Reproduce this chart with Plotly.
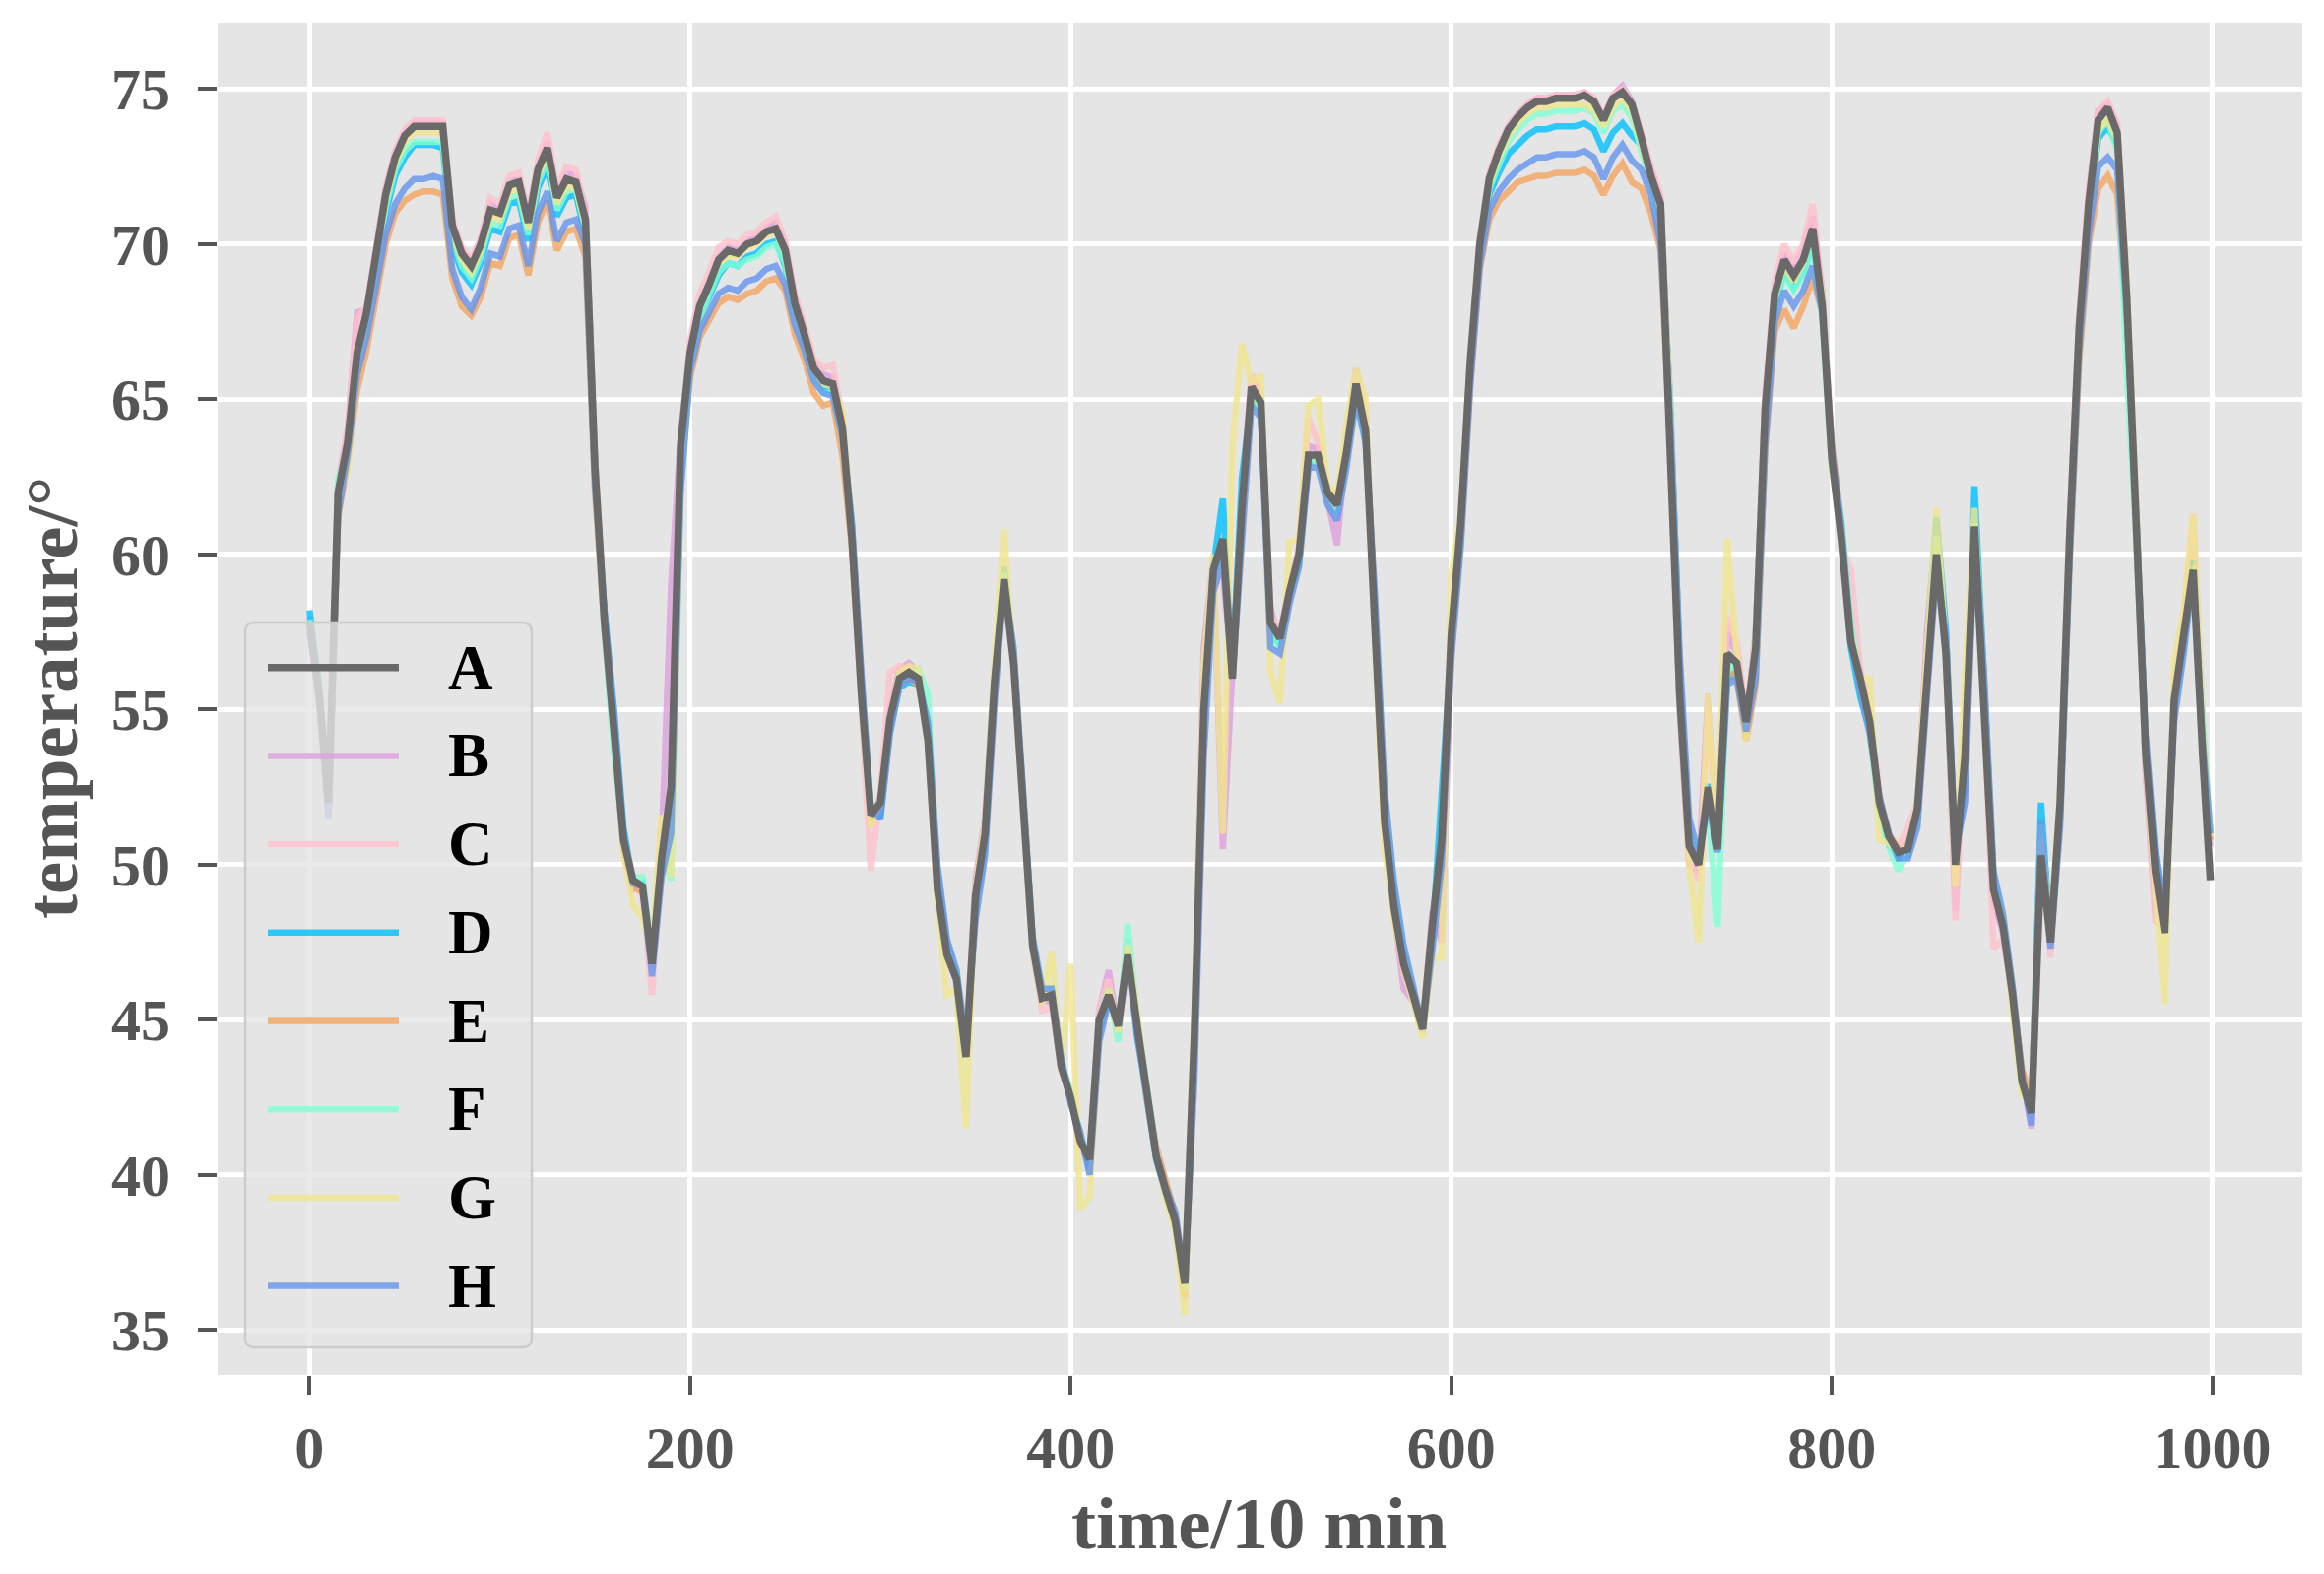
import plotly.graph_objects as go

# ---------------- data ----------------
time = list(range(0, 1000, 5)) + [999]

A = [57.8, 55.5, 52.0, 62.0, 63.6, 66.5, 67.8, 69.8, 71.6, 72.8,
     73.5, 73.8, 73.8, 73.8, 73.8, 70.6, 69.7, 69.3, 70.0, 71.1,
     71.0, 71.9, 72.0, 70.7, 72.4, 73.1, 71.5, 72.1, 72.0, 70.8,
     62.8, 57.8, 54.5, 50.8, 49.5, 49.3, 46.8, 50.2, 52.5, 63.5,
     66.5, 68.0, 68.7, 69.5, 69.8, 69.7, 70.0, 70.1, 70.4, 70.5,
     69.8, 68.1, 67.1, 66.0, 65.6, 65.5, 64.1, 60.5, 55.5, 51.6,
     52.0, 54.7, 56.0, 56.2, 56.0, 54.0, 49.2, 47.1, 46.3, 43.8,
     49.0, 51.0, 55.9, 59.2, 56.5, 52.0, 47.4, 45.7, 45.8, 43.5,
     42.5, 41.1, 40.5, 45.0, 45.8, 44.8, 47.1, 44.8, 42.5, 40.6,
     39.5, 38.5, 36.5, 44.5, 55.0, 59.5, 60.5, 56.0, 61.5, 65.4,
     64.9, 57.8, 57.3, 58.8, 60.0, 63.2, 63.2, 62.0, 61.6, 63.3,
     65.5, 64.0, 57.5, 51.4, 48.6, 46.8, 45.8, 44.7, 48.0, 50.8,
     57.4, 61.0, 66.2, 70.0, 72.1, 73.0, 73.7, 74.1, 74.4, 74.6,
     74.6, 74.7, 74.7, 74.7, 74.8, 74.6, 74.0, 74.7, 74.9, 74.5,
     73.4, 72.2, 71.3, 64.0, 55.5, 50.6, 50.0, 52.5, 50.5, 56.8,
     56.5, 54.6, 57.0, 64.7, 68.4, 69.5, 69.0, 69.5, 70.5, 68.0,
     63.1, 60.5, 57.2, 56.0, 54.6, 52.0, 50.9, 50.4, 50.5, 51.8,
     56.0, 60.0, 56.8, 50.0, 53.5, 60.9, 55.0, 49.2, 48.0, 45.8,
     43.0, 42.0, 50.3, 47.5, 52.0, 60.6, 67.3, 71.3, 74.0, 74.4,
     73.6, 68.3, 61.0, 53.6, 49.8, 47.8, 55.3, 57.3, 59.5, 53.5,
     49.5]

B = [58.0, 55.7, 51.8, 62.3, 64.0, 67.8, 67.9, 69.9, 71.8, 73.0,
     73.6, 73.9, 73.9, 73.9, 73.9, 70.7, 69.8, 69.4, 70.1, 71.3,
     71.1, 72.0, 72.1, 70.8, 72.5, 73.3, 71.6, 72.3, 72.2, 71.2,
     63.0, 58.0, 54.3, 50.5, 49.2, 49.4, 46.6, 50.5, 59.0, 63.8,
     66.7, 68.1, 68.8, 69.6, 69.9, 69.8, 70.1, 70.2, 70.5, 70.7,
     70.0, 68.3, 67.3, 66.2, 65.8, 65.7, 64.3, 60.8, 55.9, 51.2,
     52.2, 55.0, 56.3, 56.5, 56.2, 54.3, 49.3, 47.3, 46.5, 44.0,
     49.5, 51.5, 56.3, 59.0, 56.7, 52.1, 47.5, 45.6, 45.6, 43.4,
     42.6, 41.0, 40.3, 45.3, 46.6, 44.6, 47.6, 44.7, 42.4, 40.6,
     39.4, 38.3, 36.0, 44.9, 57.0, 59.9, 50.5, 56.5, 62.0, 65.6,
     65.0, 58.3, 57.0, 58.6, 60.2, 63.5, 63.4, 61.8, 60.3, 63.6,
     66.0, 64.3, 57.8, 51.6, 48.5, 46.0, 45.6, 44.6, 48.5, 47.5,
     57.0, 60.8, 66.0, 70.0, 72.2, 73.1, 73.8, 74.2, 74.5, 74.7,
     74.7, 74.8, 74.8, 74.8, 74.9, 74.7, 74.1, 74.8, 75.1, 74.6,
     73.5, 72.4, 71.5, 64.5, 55.0, 50.0, 49.8, 55.5, 50.8, 57.5,
     56.8, 54.5, 57.5, 65.0, 68.6, 69.7, 69.2, 69.8, 70.9, 68.5,
     63.5, 60.4, 57.8, 56.2, 54.5, 51.8, 50.6, 50.3, 50.7, 51.6,
     57.5, 61.0, 57.0, 48.5, 55.0, 61.0, 55.5, 48.8, 47.8, 45.7,
     43.2, 41.5, 51.5, 47.6, 51.8, 60.8, 67.6, 71.6, 74.3, 74.5,
     73.8, 68.5, 61.5, 53.0, 48.5, 48.0, 55.0, 57.5, 60.5, 54.3,
     50.6]

C = [57.6, 55.6, 52.0, 62.2, 64.0, 67.6, 68.0, 70.0, 71.8, 73.0,
     73.7, 74.0, 74.0, 74.0, 74.0, 70.8, 69.9, 69.5, 70.2, 71.5,
     71.3, 72.2, 72.3, 71.0, 72.7, 73.6, 71.8, 72.5, 72.4, 71.0,
     63.2, 58.0, 54.6, 51.0, 49.6, 49.0, 45.8, 51.4, 52.0, 63.2,
     66.9, 68.4, 69.1, 69.9, 70.1, 70.0, 70.3, 70.4, 70.7, 70.9,
     70.1, 68.4, 67.4, 66.3, 66.0, 66.1, 64.4, 60.4, 55.2, 49.8,
     52.3, 56.2, 56.4, 56.3, 56.1, 54.1, 49.0, 47.0, 46.4, 44.3,
     49.3, 51.3, 56.0, 59.0, 56.6, 52.2, 47.2, 45.3, 45.4, 43.6,
     42.7, 41.2, 40.4, 45.4, 46.3, 44.4, 47.5, 44.9, 42.6, 40.7,
     39.6, 38.6, 36.2, 44.0, 55.0, 59.5, 59.0, 56.5, 61.8, 65.8,
     65.2, 58.0, 57.5, 59.0, 60.3, 64.4, 63.6, 62.2, 61.8, 63.5,
     65.8, 64.5, 57.6, 51.2, 48.4, 46.5, 45.7, 44.8, 48.3, 50.5,
     57.8, 61.2, 66.5, 70.2, 72.3, 73.2, 73.8, 74.2, 74.5, 74.7,
     74.7, 74.8, 74.8, 74.8, 74.9, 74.7, 74.1, 74.8, 75.0, 74.5,
     73.6, 72.5, 71.6, 64.3, 55.8, 50.4, 49.5, 55.0, 51.2, 58.0,
     57.2, 54.8, 57.2, 65.2, 68.8, 70.0, 69.4, 70.0, 71.3, 68.4,
     63.3, 60.3, 59.5, 56.3, 54.8, 52.3, 50.8, 50.6, 51.2, 52.0,
     57.0, 60.8, 57.2, 48.2, 54.5, 61.2, 55.3, 47.3, 47.6, 45.9,
     43.3, 42.2, 51.5, 47.0, 52.3, 61.0, 67.8, 71.8, 74.3, 74.6,
     73.9, 68.8, 61.3, 53.2, 48.2, 47.9, 55.8, 57.8, 61.3, 54.6,
     50.8]

D = [58.2, 55.8, 51.8, 61.5, 63.4, 66.0, 67.4, 69.3, 71.0, 72.2,
     72.8, 73.2, 73.2, 73.2, 73.1, 70.0, 69.1, 68.7, 69.4, 70.5,
     70.4, 71.3, 71.4, 70.1, 71.8, 72.5, 70.9, 71.5, 71.6, 70.3,
     62.5, 58.2, 55.0, 51.2, 49.4, 49.4, 47.0, 49.8, 51.5, 62.2,
     66.2, 67.6, 68.3, 69.0, 69.4, 69.3, 69.6, 69.7, 70.0, 70.1,
     69.3, 67.8, 66.8, 65.8, 65.4, 65.2, 64.0, 61.0, 56.0, 51.8,
     51.5, 54.3, 55.7, 55.9, 55.8, 54.5, 49.8, 47.5, 46.5, 44.0,
     48.5, 50.6, 55.5, 59.6, 56.8, 52.3, 47.6, 45.8, 45.9, 43.6,
     42.4, 41.3, 40.2, 44.6, 45.7, 44.9, 47.3, 44.5, 42.6, 40.5,
     39.4, 38.6, 36.4, 43.8, 54.5, 59.6, 61.8, 56.2, 62.5, 65.0,
     64.8, 57.5, 57.1, 58.7, 59.7, 63.0, 63.0, 61.9, 61.4, 63.2,
     65.3, 64.0, 58.5, 52.2, 49.2, 47.2, 45.8, 44.7, 47.6, 52.5,
     57.0, 60.6, 65.8, 69.6, 71.6, 72.3, 72.9, 73.2, 73.5, 73.7,
     73.7, 73.8, 73.8, 73.8, 73.9, 73.7, 73.0, 73.6, 73.9, 73.5,
     73.2, 72.0, 70.8, 65.0, 56.5, 51.0, 50.2, 52.6, 50.6, 56.0,
     56.2, 54.2, 56.6, 64.0, 68.0, 69.1, 68.6, 69.1, 70.0, 68.0,
     63.0, 60.8, 57.0, 55.4, 54.3, 52.0, 50.7, 50.2, 50.3, 51.5,
     56.5, 61.2, 57.6, 50.2, 52.5, 62.2, 56.0, 49.6, 48.3, 46.0,
     43.1, 42.1, 52.0, 47.5, 51.6, 60.2, 67.0, 71.0, 73.4, 73.8,
     73.2, 68.5, 61.4, 54.0, 50.3, 48.2, 55.0, 57.0, 59.8, 54.0,
     51.0]

E = [57.6, 55.4, 51.6, 61.2, 63.0, 65.3, 66.6, 68.4, 70.0, 71.0,
     71.4, 71.6, 71.7, 71.7, 71.6, 68.9, 68.0, 67.7, 68.3, 69.4,
     69.3, 70.2, 70.3, 69.0, 70.7, 71.4, 69.8, 70.4, 70.5, 69.6,
     62.0, 57.6, 54.4, 50.6, 49.3, 49.1, 46.9, 49.9, 51.0, 62.5,
     65.7, 67.0, 67.6, 68.1, 68.3, 68.2, 68.4, 68.5, 68.8, 68.9,
     68.5, 67.1, 66.3, 65.2, 64.8, 64.9, 63.2, 60.2, 55.6, 51.5,
     51.8, 54.5, 55.8, 56.0, 55.8, 54.2, 49.5, 47.4, 46.4, 44.2,
     48.6, 50.7, 55.6, 59.3, 56.8, 52.3, 47.6, 45.8, 45.9, 43.5,
     42.6, 41.2, 40.4, 44.8, 45.9, 44.9, 47.2, 44.9, 42.7, 40.9,
     39.7, 38.7, 36.1, 44.2, 54.8, 59.3, 60.0, 56.3, 61.3, 65.2,
     64.7, 57.6, 57.3, 58.7, 59.9, 63.1, 63.0, 61.8, 61.5, 63.1,
     65.2, 63.8, 58.0, 52.0, 49.0, 47.0, 45.9, 44.9, 47.8, 50.5,
     56.8, 60.4, 65.5, 69.2, 70.8, 71.4, 71.7, 72.0, 72.1, 72.2,
     72.2, 72.3, 72.3, 72.3, 72.4, 72.2, 71.6, 72.2, 72.6, 72.0,
     71.8, 71.0, 69.8, 63.8, 56.0, 50.9, 50.1, 52.4, 50.8, 56.4,
     56.0, 54.0, 55.8, 63.4, 67.2, 67.9, 67.3, 68.0, 68.9, 67.8,
     63.6, 61.0, 57.4, 55.8, 54.5, 52.2, 51.0, 50.5, 50.4, 51.5,
     56.2, 60.3, 57.2, 50.3, 53.0, 60.6, 55.5, 49.5, 48.2, 45.9,
     43.4, 42.4, 51.0, 47.8, 51.6, 59.8, 66.2, 70.0, 71.8, 72.2,
     71.6, 67.4, 61.0, 53.8, 50.0, 48.0, 55.2, 57.2, 59.7, 54.2,
     50.8]

F = [57.9, 55.6, 51.9, 62.4, 63.4, 66.2, 67.4, 69.4, 71.2, 72.4,
     73.0, 73.3, 73.3, 73.3, 73.3, 70.2, 69.3, 68.9, 69.6, 70.7,
     70.6, 71.5, 71.6, 70.3, 72.0, 72.7, 71.1, 71.7, 71.8, 70.5,
     62.6, 57.5, 53.6, 50.9, 49.6, 49.6, 47.1, 50.6, 49.5, 62.0,
     66.0, 67.5, 68.4, 69.1, 69.4, 69.3, 69.5, 69.6, 69.9, 70.0,
     69.4, 67.6, 66.9, 65.7, 65.2, 65.2, 63.9, 60.8, 55.7, 51.9,
     51.9, 54.6, 55.9, 56.1, 56.3, 55.5, 49.5, 47.3, 46.6, 44.1,
     48.6, 50.6, 55.6, 59.4, 56.9, 52.3, 47.7, 45.9, 46.0, 43.7,
     42.7, 41.3, 40.5, 45.0, 46.0, 44.3, 48.1, 45.0, 42.8, 40.8,
     39.3, 38.4, 36.3, 44.0, 54.3, 59.2, 60.3, 56.0, 61.6, 65.0,
     64.5, 57.4, 57.0, 58.6, 59.8, 63.2, 62.9, 61.9, 61.3, 63.0,
     65.0, 63.6, 58.2, 52.0, 49.3, 47.3, 46.0, 44.8, 47.5, 50.4,
     57.1, 60.6, 65.9, 69.8, 71.8, 72.6, 73.3, 73.7, 74.0, 74.2,
     74.2, 74.3, 74.3, 74.3, 74.4, 74.2, 73.6, 74.3, 74.5, 74.1,
     73.0, 72.0, 70.8, 64.6, 56.2, 51.2, 50.3, 52.0, 48.0, 56.2,
     56.6, 54.5, 56.4, 64.2, 67.8, 69.0, 68.5, 69.0, 69.9, 67.6,
     62.8, 61.2, 57.9, 55.8, 54.2, 51.6, 50.6, 49.8, 50.4, 51.4,
     56.4, 60.6, 57.3, 50.1, 53.0, 61.0, 55.8, 49.6, 48.4, 46.0,
     43.0, 42.2, 51.3, 47.6, 51.5, 60.1, 66.9, 70.9, 73.6, 74.0,
     73.0, 66.0, 60.5, 53.5, 49.8, 47.9, 55.0, 57.0, 59.6, 54.6,
     51.0]

G = [57.7, 55.4, 51.9, 61.8, 62.7, 66.0, 67.6, 69.6, 71.4, 72.6,
     73.3, 73.6, 73.6, 73.6, 73.6, 70.4, 69.5, 69.1, 69.8, 70.9,
     70.8, 71.7, 71.8, 70.5, 72.2, 72.9, 71.3, 71.9, 71.8, 70.6,
     63.0, 57.9, 54.6, 50.4, 48.7, 48.3, 47.2, 51.6, 49.6, 62.8,
     66.6, 67.9, 68.6, 69.4, 69.6, 69.6, 69.9, 70.0, 70.3, 70.4,
     69.7, 67.9, 67.0, 65.9, 65.5, 65.4, 64.6, 60.7, 55.3, 51.2,
     52.1, 54.8, 56.2, 56.4, 56.3, 53.8, 48.8, 45.8, 46.0, 41.5,
     49.2, 51.4, 56.5, 60.8, 56.4, 51.8, 47.2, 45.5, 47.2, 43.3,
     46.8, 38.9, 39.3, 44.7, 46.0, 44.6, 47.4, 45.2, 42.6, 40.8,
     39.2, 38.2, 35.5, 45.5, 56.5, 60.0, 51.0, 63.5, 66.8, 65.5,
     65.8, 56.2, 55.2, 60.4, 60.5, 64.8, 65.0, 62.2, 61.9, 64.2,
     66.0, 65.0, 57.0, 50.5, 48.2, 46.7, 45.6, 44.4, 47.0, 47.0,
     59.3, 61.3, 66.2, 70.0, 71.9, 72.8, 73.5, 73.9, 74.2, 74.4,
     74.4, 74.5, 74.5, 74.5, 74.5, 74.3, 73.8, 74.4, 74.7, 74.3,
     73.2, 72.1, 71.2, 64.8, 55.5, 50.0, 47.5, 55.5, 51.0, 60.5,
     56.8, 54.0, 57.4, 64.8, 68.3, 69.3, 68.8, 69.4, 70.4, 68.4,
     62.8, 60.8, 57.5, 56.0, 56.0, 50.8, 50.7, 50.4, 50.6, 52.0,
     56.8, 61.5, 57.0, 49.3, 56.0, 61.5, 55.5, 49.0, 48.5, 45.2,
     42.6, 42.3, 50.8, 48.0, 52.4, 60.8, 67.2, 71.0, 73.7, 74.0,
     73.4, 69.0, 61.8, 53.4, 49.2, 45.5, 56.5, 58.2, 61.3, 54.4,
     50.9]

H = [57.5, 55.3, 51.5, 61.3, 63.2, 65.8, 67.0, 68.8, 70.3, 71.3,
     71.8, 72.1, 72.1, 72.2, 72.1, 69.2, 68.3, 67.9, 68.6, 69.7,
     69.6, 70.5, 70.6, 69.3, 71.0, 71.7, 70.1, 70.7, 70.8, 70.0,
     62.2, 58.1, 54.9, 51.0, 49.4, 49.3, 46.4, 49.6, 51.0, 62.0,
     65.9, 67.2, 67.8, 68.4, 68.6, 68.5, 68.8, 68.9, 69.2, 69.3,
     68.7, 67.4, 66.6, 65.6, 65.2, 65.1, 63.8, 61.0, 56.2, 51.8,
     51.5, 54.2, 55.8, 56.0, 55.9, 54.6, 50.0, 47.6, 46.6, 44.3,
     48.2, 50.3, 55.2, 59.1, 57.0, 52.5, 47.7, 46.0, 46.0, 43.8,
     42.3, 41.4, 40.0, 44.3, 45.6, 45.0, 47.0, 44.4, 42.7, 40.7,
     39.6, 38.8, 36.6, 43.0, 53.5, 58.8, 59.8, 56.0, 60.8, 64.8,
     64.4, 57.0, 56.8, 58.4, 59.6, 62.8, 62.8, 61.6, 61.1, 62.8,
     65.0, 63.6, 58.6, 52.4, 49.4, 47.4, 46.1, 44.7, 47.2, 50.0,
     56.6, 60.2, 65.4, 69.3, 71.1, 71.7, 72.1, 72.4, 72.6, 72.8,
     72.8, 72.9, 72.9, 72.9, 73.0, 72.8, 72.1, 72.8, 73.2, 72.7,
     72.4, 71.6, 70.0, 64.5, 56.8, 51.5, 50.3, 52.0, 50.4, 55.8,
     56.0, 54.3, 56.0, 63.5, 67.5, 68.5, 68.0, 68.5, 69.3, 67.8,
     63.4, 61.0, 57.4, 55.6, 54.2, 52.2, 51.0, 50.2, 50.2, 51.2,
     55.4, 59.5, 57.4, 50.4, 52.0, 60.6, 56.2, 49.8, 48.4, 46.1,
     43.2, 41.6, 51.4, 47.3, 51.2, 59.8, 66.6, 70.3, 72.5, 72.8,
     72.4, 67.8, 61.2, 54.2, 50.4, 48.3, 54.6, 56.8, 59.4, 54.0,
     51.0]

series_names = ["A", "B", "C", "D", "E", "F", "G", "H"]
series_values = [A, B, C, D, E, F, G, H]
series_colors = ["rgb(105,105,105)", "rgba(221,160,221,0.8)", "rgba(255,192,203,0.8)",
                 "rgba(0,191,255,0.8)", "rgba(244,164,96,0.8)", "rgba(127,255,212,0.8)",
                 "rgba(240,230,140,0.8)", "rgba(100,149,237,0.8)"]
x_ticks = [0, 200, 400, 600, 800, 1000]
y_ticks = [35, 40, 45, 50, 55, 60, 65, 70, 75]

n = len(time)
series_values = [v[:n] for v in series_values]

# ---------------- layout constants ----------------
# The page body has an 8px margin, so the figure is sized / offset to
# put the plotting area at page pixels x 221..2338, y 23..1396.
FONT = "Liberation Serif"
OFF = 8
W, Hh = 2344, 1582
ML, MR, MT, MB = 213, 14, 15, 194
PW = W - ML - MR
PH = Hh - MT - MB
GRAY = "#555555"
PLOT_LEFT = ML + OFF
PLOT_TOP = MT + OFF
LW_A, LW_O = 7.5, 6.5


def px(x):
    return (x - PLOT_LEFT) / PW


def py(y):
    return 1 - (y - PLOT_TOP) / PH


fig = go.Figure()
# B..H first, A drawn last (on top)
for name, vals, col in list(zip(series_names, series_values, series_colors))[1:]:
    fig.add_trace(go.Scatter(x=time, y=vals, mode="lines", name=name,
                             line=dict(color=col, width=LW_O), showlegend=False,
                             hoverinfo="skip"))
fig.add_trace(go.Scatter(x=time, y=series_values[0], mode="lines", name="A",
                         line=dict(color=series_colors[0], width=LW_A), showlegend=False,
                         hoverinfo="skip"))

axis_common = dict(
    showgrid=True, gridcolor="white", gridwidth=4.5, zeroline=False, showline=False,
    ticks="outside", ticklen=19, tickwidth=4, tickcolor=GRAY,
    tickfont=dict(family=FONT, size=60, color=GRAY, weight="bold"),
)
fig.update_xaxes(range=[-48.3, 1047.3], tickvals=x_ticks,
                 ticktext=[str(v) for v in x_ticks], ticklabelstandoff=2, **axis_common)
fig.update_yaxes(range=[33.55, 77.14], tickvals=y_ticks,
                 ticktext=[str(v) for v in y_ticks], ticklabelstandoff=16, **axis_common)

# ---------------- manual legend ----------------
shapes = []
lx0, lx1, ly0, ly1, rad = 249, 540, 632, 1368, 10
pts = (f"M {px(lx0 + rad)},{py(ly0)} L {px(lx1 - rad)},{py(ly0)} "
       f"Q {px(lx1)},{py(ly0)} {px(lx1)},{py(ly0 + rad)} "
       f"L {px(lx1)},{py(ly1 - rad)} Q {px(lx1)},{py(ly1)} {px(lx1 - rad)},{py(ly1)} "
       f"L {px(lx0 + rad)},{py(ly1)} Q {px(lx0)},{py(ly1)} {px(lx0)},{py(ly1 - rad)} "
       f"L {px(lx0)},{py(ly0 + rad)} Q {px(lx0)},{py(ly0)} {px(lx0 + rad)},{py(ly0)} Z")
shapes.append(dict(type="path", xref="paper", yref="paper", path=pts,
                   fillcolor="rgba(229,229,229,0.8)",
                   line=dict(color="#CCCCCC", width=2.5), layer="above"))
annotations = []
for i, (name, col) in enumerate(zip(series_names, series_colors)):
    yy = 677.7 + i * 89.7
    shapes.append(dict(type="line", xref="paper", yref="paper",
                       x0=px(272), x1=px(405), y0=py(yy), y1=py(yy),
                       line=dict(color=col, width=LW_A if i == 0 else LW_O), layer="above"))
    annotations.append(dict(xref="paper", yref="paper", x=px(453), y=py(yy),
                            xanchor="left", yanchor="middle", showarrow=False,
                            text=name,
                            font=dict(family=FONT, size=63, color="black", weight="bold")))

# axis titles
annotations.append(dict(xref="paper", yref="paper", x=px(1278), y=py(1546),
                        xanchor="center", yanchor="middle", showarrow=False,
                        text="time/10 min",
                        font=dict(family=FONT, size=75, color=GRAY, weight="bold")))
annotations.append(dict(xref="paper", yref="paper", x=px(52), y=py(709),
                        xanchor="center", yanchor="middle", showarrow=False,
                        text="temperature/°", textangle=-90,
                        font=dict(family=FONT, size=75, color=GRAY, weight="bold")))

fig.update_layout(
    width=W, height=Hh,
    margin=dict(l=ML, r=MR, t=MT, b=MB),
    paper_bgcolor="white", plot_bgcolor="#E5E5E5",
    showlegend=False, shapes=shapes, annotations=annotations,
)

fig.write_html("out.html")
